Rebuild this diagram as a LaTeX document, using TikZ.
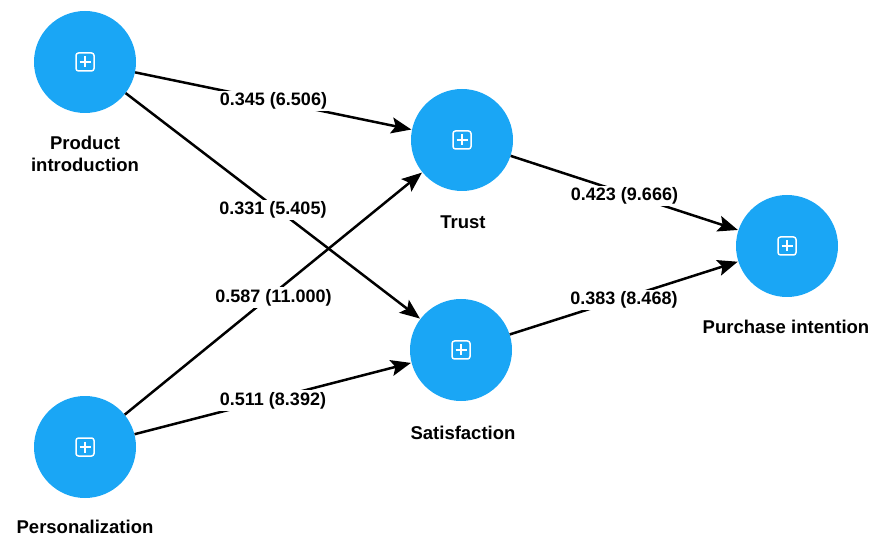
\documentclass[tikz,border=0pt]{standalone}
\usepackage{fontspec}
\setmainfont{Liberation Sans}
\usetikzlibrary{arrows.meta}
\definecolor{nodeblue}{RGB}{26,166,245}
\tikzset{
  latent/.style={circle,fill=nodeblue,minimum size=102pt,inner sep=0pt},
  caption/.style={font=\fontsize{18.5}{22}\selectfont\bfseries,align=center},
  path/.style={line width=2.5pt,-{Stealth[length=20pt,width=16pt,inset=4pt]},shorten >=0.5pt},
  coef/.style={fill=white,inner sep=2pt,font=\fontsize{18}{20}\selectfont\bfseries}
}
\begin{document}
\begin{tikzpicture}[x=1pt,y=-1pt]
\useasboundingbox (0,0) rectangle (873,537);
\node[latent] (pi) at (85,62) {};
\node[latent] (pe) at (85,447) {};
\node[latent] (tr) at (462,140) {};
\node[latent] (sa) at (461,350) {};
\node[latent] (pu) at (787,246) {};
\foreach \n in {pi,pe,tr,sa,pu}{
  \draw[white,line width=1.5pt,rounded corners=2.5pt] ([shift={(-9,-9)}]\n.center) rectangle ([shift={(9,9)}]\n.center);
  \draw[white,line width=1.5pt] ([shift={(-5.5,0)}]\n.center) -- ([shift={(5.5,0)}]\n.center);
  \draw[white,line width=1.5pt] ([shift={(0,-5.5)}]\n.center) -- ([shift={(0,5.5)}]\n.center);
}
\node[caption] (lpi) at (85,154) {Product\\introduction};
\node[caption] (lpe) at (85,527) {Personalization};
\node[caption] (ltr) at (463,222) {Trust};
\node[caption] (lsa) at (463,433) {Satisfaction};
\node[caption] (lpu) at (786,327) {Purchase intention};
\draw[path] (pi) -- node[coef,pos=0.5] {0.345 (6.506)} (tr);
\draw[path] (pi) -- node[coef,pos=0.5,yshift=-4pt] {0.331 (5.405)} (sa);
\draw[path] (pe) -- node[coef,pos=0.5,yshift=-4pt] {0.587 (11.000)} (tr);
\draw[path] (pe) -- node[coef,pos=0.5,yshift=-2pt] {0.511 (8.392)} (sa);
\draw[path] (tr) -- node[coef,pos=0.5,yshift=-3pt] {0.423 (9.666)} (pu);
\draw[path] (sa) -- node[coef,pos=0.5,yshift=-2pt] {0.383 (8.468)} (pu);
\end{tikzpicture}
\end{document}
